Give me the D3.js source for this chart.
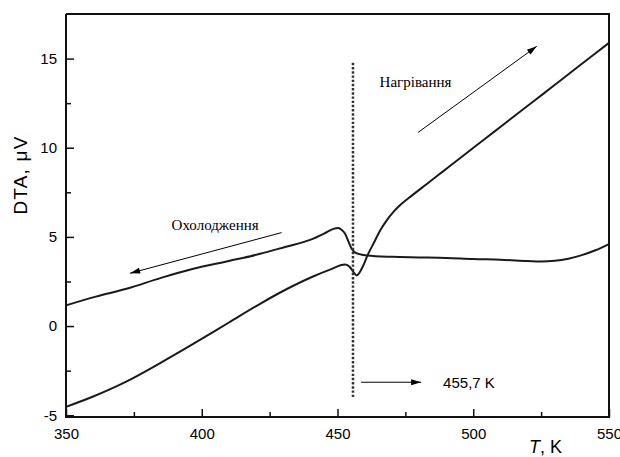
<!DOCTYPE html>
<html>
<head>
<meta charset="utf-8">
<script src="https://cdn.jsdelivr.net/npm/d3@7"></script>
</head>
<body style="margin:0">
<svg id="chart" width="620" height="457"></svg>
<script>
// heating run (lower branch, then the steep rise)
const heatT = [350, 360, 372, 385, 397, 410, 421.5, 431, 441, 447, 452.8, 454.6, 456, 457.1, 458.9,
  461.3, 463.5, 465.7, 468, 470.6, 473, 476, 482.9, 489, 495.1, 501, 507.4, 513.5, 519.7, 526, 532, 538, 544.2, 550];
const heatV = [-4.53, -3.95, -3.13, -2.05, -0.99, 0.2, 1.25, 2.05, 2.78, 3.15, 3.45, 3.3, 3.0, 2.84, 3.21,
  4.05, 4.7, 5.36, 5.9, 6.4, 6.77, 7.15, 7.97, 8.69, 9.41, 10.11, 10.86, 11.58, 12.31, 13.05, 13.76, 14.47, 15.2, 15.88];

// cooling run (flat right part, peak, upper left branch)
const coolT = [350, 361, 372.3, 385, 396.9, 410, 421.5, 431, 439.9, 446, 448.5, 450.3, 451.5, 452.8, 454,
  455.2, 456.5, 457.7, 460.8, 470, 480, 490, 500, 510, 520, 525, 530, 535, 540, 545, 550];
const coolV = [1.16, 1.65, 2.09, 2.7, 3.21, 3.65, 4.05, 4.45, 4.83, 5.26, 5.45, 5.5, 5.4, 5.17, 4.75,
  4.33, 4.12, 4.05, 3.96, 3.88, 3.85, 3.82, 3.76, 3.72, 3.65, 3.62, 3.66, 3.78, 3.98, 4.25, 4.6];

const xTicks = [350, 400, 450, 500, 550];
const xMinor = [375, 425, 475, 525];
const yTicks = [-5, 0, 5, 10, 15];
const yMinor = [-2.5, 2.5, 7.5, 12.5];

const transitionT = 455.7;

const margin = {top: 14, right: 11, bottom: 40, left: 66};
const W = 620 - margin.left - margin.right;
const H = 457 - margin.top - margin.bottom;

const serif = '"Liberation Serif", "Times New Roman", serif';
const sans = '"Liberation Sans", Arial, sans-serif';

const svg = d3.select('#chart');
const g = svg.append('g').attr('transform', `translate(${margin.left},${margin.top})`);

const x = d3.scaleLinear().domain([350, 550]).range([0, W]);
const y = d3.scaleLinear().domain([-5.1, 17.5]).range([H, 0]);

function styleAxis(sel, anchor) {
  sel.attr('fill', null).attr('text-anchor', null);
  sel.select('.domain').remove();
  sel.selectAll('.tick line')
    .attr('x1', 0).attr('y1', 0)
    .attr('stroke', '#111').attr('stroke-width', 1.5);
  sel.selectAll('.tick text')
    .attr('text-anchor', anchor)
    .attr('font-family', sans).attr('font-size', 15).attr('fill', '#000');
}

// axes, ticks pointing inwards
g.append('g').attr('transform', `translate(0,${H})`)
  .call(d3.axisBottom(x).tickValues(xTicks).tickFormat(String)
    .tickSizeInner(-8).tickSizeOuter(0).tickPadding(11))
  .call(styleAxis, 'middle');
g.append('g').attr('transform', `translate(0,${H})`)
  .call(d3.axisBottom(x).tickValues(xMinor).tickSizeInner(-5).tickSizeOuter(0).tickFormat(''))
  .call(styleAxis, 'middle');
g.append('g')
  .call(d3.axisLeft(y).tickValues(yTicks).tickFormat(String)
    .tickSizeInner(-8).tickSizeOuter(0).tickPadding(9))
  .call(styleAxis, 'end');
g.append('g')
  .call(d3.axisLeft(y).tickValues(yMinor).tickSizeInner(-5).tickSizeOuter(0).tickFormat(''))
  .call(styleAxis, 'end');

const line = d3.line()
  .x(d => x(d[0]))
  .y(d => y(d[1]))
  .curve(d3.curveMonotoneX);

g.append('path')
  .datum(heatT.map((t, i) => [t, heatV[i]]))
  .attr('d', line)
  .attr('fill', 'none').attr('stroke', '#1a1a1a').attr('stroke-width', 2);

g.append('path')
  .datum(coolT.map((t, i) => [t, coolV[i]]))
  .attr('d', line)
  .attr('fill', 'none').attr('stroke', '#1a1a1a').attr('stroke-width', 2);

// transition temperature marker
g.append('line')
  .attr('x1', x(transitionT)).attr('x2', x(transitionT))
  .attr('y1', y(14.76)).attr('y2', y(-4.0))
  .attr('stroke', '#333').attr('stroke-width', 2.5).attr('stroke-dasharray', '2.4,1.8');

// arrows, head drawn as a small triangle at the end
function arrow(t1, v1, t2, v2) {
  const x1 = x(t1), y1 = y(v1), x2 = x(t2), y2 = y(v2);
  const a = Math.atan2(y2 - y1, x2 - x1) * 180 / Math.PI;
  g.append('line')
    .attr('x1', x1).attr('y1', y1).attr('x2', x2).attr('y2', y2)
    .attr('stroke', '#000').attr('stroke-width', 1);
  g.append('path')
    .attr('d', 'M0,0L-10,-3L-10,3Z')
    .attr('transform', `translate(${x2},${y2}) rotate(${a})`)
    .attr('fill', '#000');
}
arrow(479.7, 10.86, 523.4, 15.69);
arrow(429.4, 5.24, 373.6, 2.96);
arrow(458.7, -3.15, 480.8, -3.15);

g.append('text')
  .attr('x', x(465.5)).attr('y', y(13.4))
  .attr('font-family', serif).attr('font-size', 15)
  .text('Нагрівання');

g.append('text')
  .attr('x', x(388.9)).attr('y', y(5.4))
  .attr('font-family', serif).attr('font-size', 15)
  .text('Охолодження');

g.append('text')
  .attr('x', x(488.9)).attr('y', y(-3.15)).attr('dy', '0.36em')
  .attr('font-family', sans).attr('font-size', 15)
  .text('455,7 K');

// frame on top of everything
g.append('path')
  .attr('d', d3.line()([[0, 0], [W, 0], [W, H], [0, H], [0, 0]]))
  .attr('fill', 'none').attr('stroke', '#111').attr('stroke-width', 2)
  .attr('stroke-linejoin', 'miter');

// axis titles
svg.append('text')
  .attr('transform', 'translate(27,175) rotate(-90)')
  .attr('text-anchor', 'middle')
  .attr('font-family', sans).attr('font-size', 19)
  .attr('letter-spacing', 1.2)
  .text('DTA, μV');

const xt = svg.append('text')
  .attr('x', 529).attr('y', 453)
  .attr('font-family', sans).attr('font-size', 18);
xt.append('tspan').attr('font-style', 'italic').text('T');
xt.append('tspan').text(', K');
</script>
</body>
</html>
